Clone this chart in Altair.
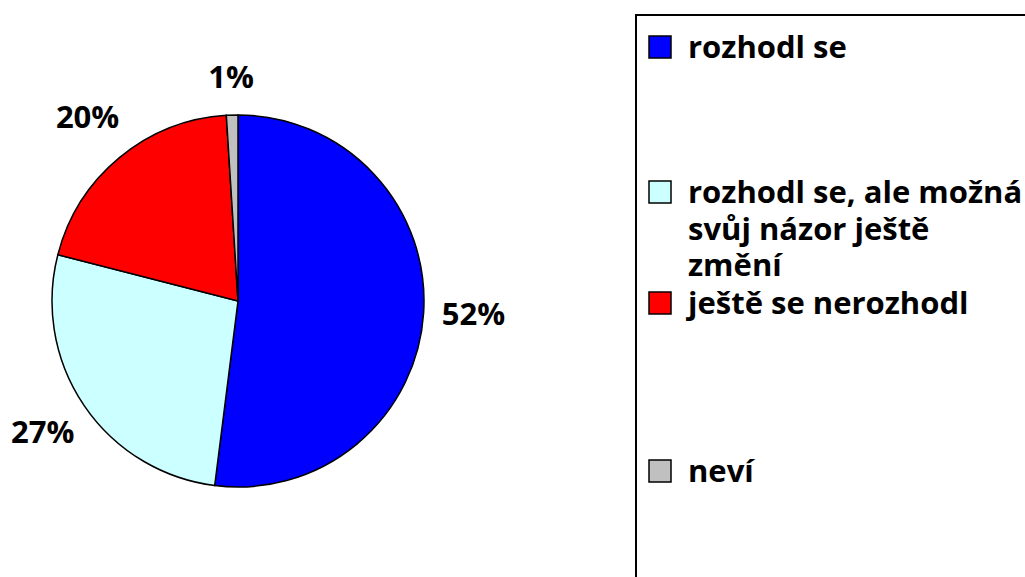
import altair as alt
import pandas as pd

categories = ["rozhodl se", "rozhodl se, ale možná svůj názor ještě změní", "ještě se nerozhodl", "neví"]
legend_labels = ["rozhodl se", "rozhodl se, ale možná\nsvůj názor ještě\nzmění", "ještě se nerozhodl", "neví"]
values = [52, 27, 20, 1]
colors = ["#0000FF", "#CCFFFF", "#FF0000", "#C0C0C0"]

df = pd.DataFrame({
    "category": categories,
    "legend": legend_labels,
    "value": values,
    "order": list(range(len(categories))),
})

FONT = "Open Sans"
CX, CY, R = 238, 301, 186

base = alt.Chart(df).transform_calculate(label="datum.value + '%'")

color_scale = alt.Scale(domain=categories, range=colors)

arcs = base.mark_arc(outerRadius=R, stroke="black", strokeWidth=1.5).encode(
    theta=alt.Theta("value:Q", stack=True),
    color=alt.Color("category:N", scale=color_scale, legend=None),
    order=alt.Order("order:Q"),
    x=alt.value(CX),
    y=alt.value(CY),
)

labels_big = base.mark_text(radius=236, fontSize=31, fontWeight="bold", font=FONT,
                            align="center", baseline="middle", color="black").encode(
    theta=alt.Theta("value:Q", stack=True),
    order=alt.Order("order:Q"),
    text=alt.condition("datum.value >= 5", alt.Text("label:N"), alt.value("")),
    x=alt.value(CX),
    y=alt.value(CY),
)

labels_small = base.mark_text(radius=222, fontSize=31, fontWeight="bold", font=FONT,
                              align="center", baseline="middle", color="black").encode(
    theta=alt.Theta("value:Q", stack=True),
    order=alt.Order("order:Q"),
    text=alt.condition("datum.value < 5", alt.Text("label:N"), alt.value("")),
    x=alt.value(CX),
    y=alt.value(CY),
)

box = alt.Chart(pd.DataFrame({"k": [0]})).mark_rect(
    fill="white", fillOpacity=0, stroke="black", strokeWidth=2
).encode(
    x=alt.value(636), x2=alt.value(1060), y=alt.value(15), y2=alt.value(620)
)

legend_y = alt.Y("order:Q", scale=alt.Scale(domain=[0, 1, 2, 3], range=[47, 192, 303, 471], zero=False, nice=False), axis=None)

leg_sym = base.mark_point(shape="square", filled=True, size=484, stroke="black",
                          strokeWidth=1.5, opacity=1).encode(
    x=alt.value(660),
    y=legend_y,
    color=alt.Color("category:N", scale=color_scale, legend=None),
)

leg_text = base.mark_text(align="left", baseline="alphabetic", dy=11, fontSize=31,
                          fontWeight="bold", font=FONT, lineBreak="\n", lineHeight=36.5,
                          color="black").encode(
    x=alt.value(688),
    y=legend_y,
    text=alt.Text("legend:N"),
)

chart = alt.layer(arcs, labels_big, labels_small, box, leg_sym, leg_text).properties(
    width=1025, height=577, padding=0,
    autosize=alt.AutoSizeParams(type="none"),
    background="white",
).configure_view(stroke=None)

chart.save("out.html", embed_options={"renderer": "svg", "actions": False})
